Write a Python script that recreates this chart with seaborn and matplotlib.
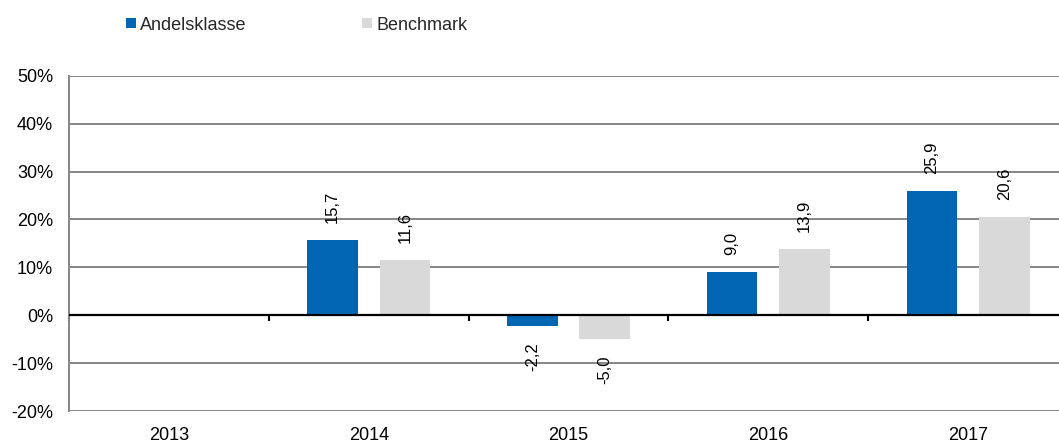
import numpy as np
import pandas as pd
import matplotlib
matplotlib.use("Agg")
import matplotlib.pyplot as plt
import seaborn as sns
from matplotlib.ticker import FuncFormatter

# ---- data ----
years = ["2013", "2014", "2015", "2016", "2017"]
series_names = ["Andelsklasse", "Benchmark"]
andelsklasse = [np.nan, 15.7, -2.2, 9.0, 25.9]
benchmark = [np.nan, 11.6, -5.0, 13.9, 20.6]
y_ticks = [-20, -10, 0, 10, 20, 30, 40, 50]

colors = {"Andelsklasse": "#0066B3", "Benchmark": "#D9D9D9"}

rows = []
for name, vals in zip(series_names, [andelsklasse, benchmark]):
    for yr, v in zip(years, vals):
        if not np.isnan(v):
            rows.append({"year": yr, "series": name, "value": v})
df = pd.DataFrame(rows)

sns.set_theme(style="white")
plt.rcParams["font.family"] = ["Liberation Sans", "DejaVu Sans"]

W, H = 1059, 442
fig = plt.figure(figsize=(W / 100, H / 100), dpi=100)
ax = fig.add_axes([69 / W, 1 - 411 / H, 999 / W, (411 - 75.7) / H])

sns.barplot(data=df, x="year", y="value", hue="series", order=years,
            hue_order=series_names, palette=colors, width=0.725, gap=0.3,
            saturation=1, errorbar=None, linewidth=0, ax=ax)

ax.set_xlim(-0.5, len(years) - 0.5)
ax.set_ylim(min(y_ticks), max(y_ticks))
ax.set_yticks(y_ticks)
ax.yaxis.set_major_formatter(FuncFormatter(lambda v, p: f"{int(v)}%"))
ax.set_xlabel("")
ax.set_ylabel("")

ax.set_axisbelow(True)
ax.yaxis.grid(True, color="#868686", linewidth=1.4)
ax.xaxis.grid(False)
for s in ["top", "right", "bottom"]:
    ax.spines[s].set_visible(False)
ax.spines["left"].set_color("#868686")
ax.spines["left"].set_linewidth(1.4)
ax.tick_params(axis="both", length=0, labelsize=13, labelcolor="black")
ax.tick_params(axis="y", pad=11.5)
ax.tick_params(axis="x", pad=11.5)

# zero line with category-boundary ticks
ax.axhline(0, color="black", linewidth=1.6, zorder=3)
zero_frac = (0 - min(y_ticks)) / (max(y_ticks) - min(y_ticks))
sec = ax.secondary_xaxis(zero_frac)
sec.set_xticks([i - 0.5 for i in range(len(years))])
sec.tick_params(direction="out", length=4, width=1.5, color="black",
                labelbottom=False, labeltop=False)
for s in sec.spines.values():
    s.set_visible(False)

# value labels
for cont in ax.containers:
    ax.bar_label(cont, fmt=lambda v: f"{v:.1f}".replace(".", ","),
                 rotation=90, padding=12, fontsize=12, color="black")

sns.move_legend(ax, "center left", bbox_to_anchor=(110 / W, 1 - 25 / H),
                bbox_transform=fig.transFigure, ncol=2, frameon=False,
                title=None, handlelength=0.53, handleheight=0.53,
                handletextpad=0.25, columnspacing=6.4, fontsize=13,
                borderpad=0.4)

fig.savefig("out.png", dpi=100)
